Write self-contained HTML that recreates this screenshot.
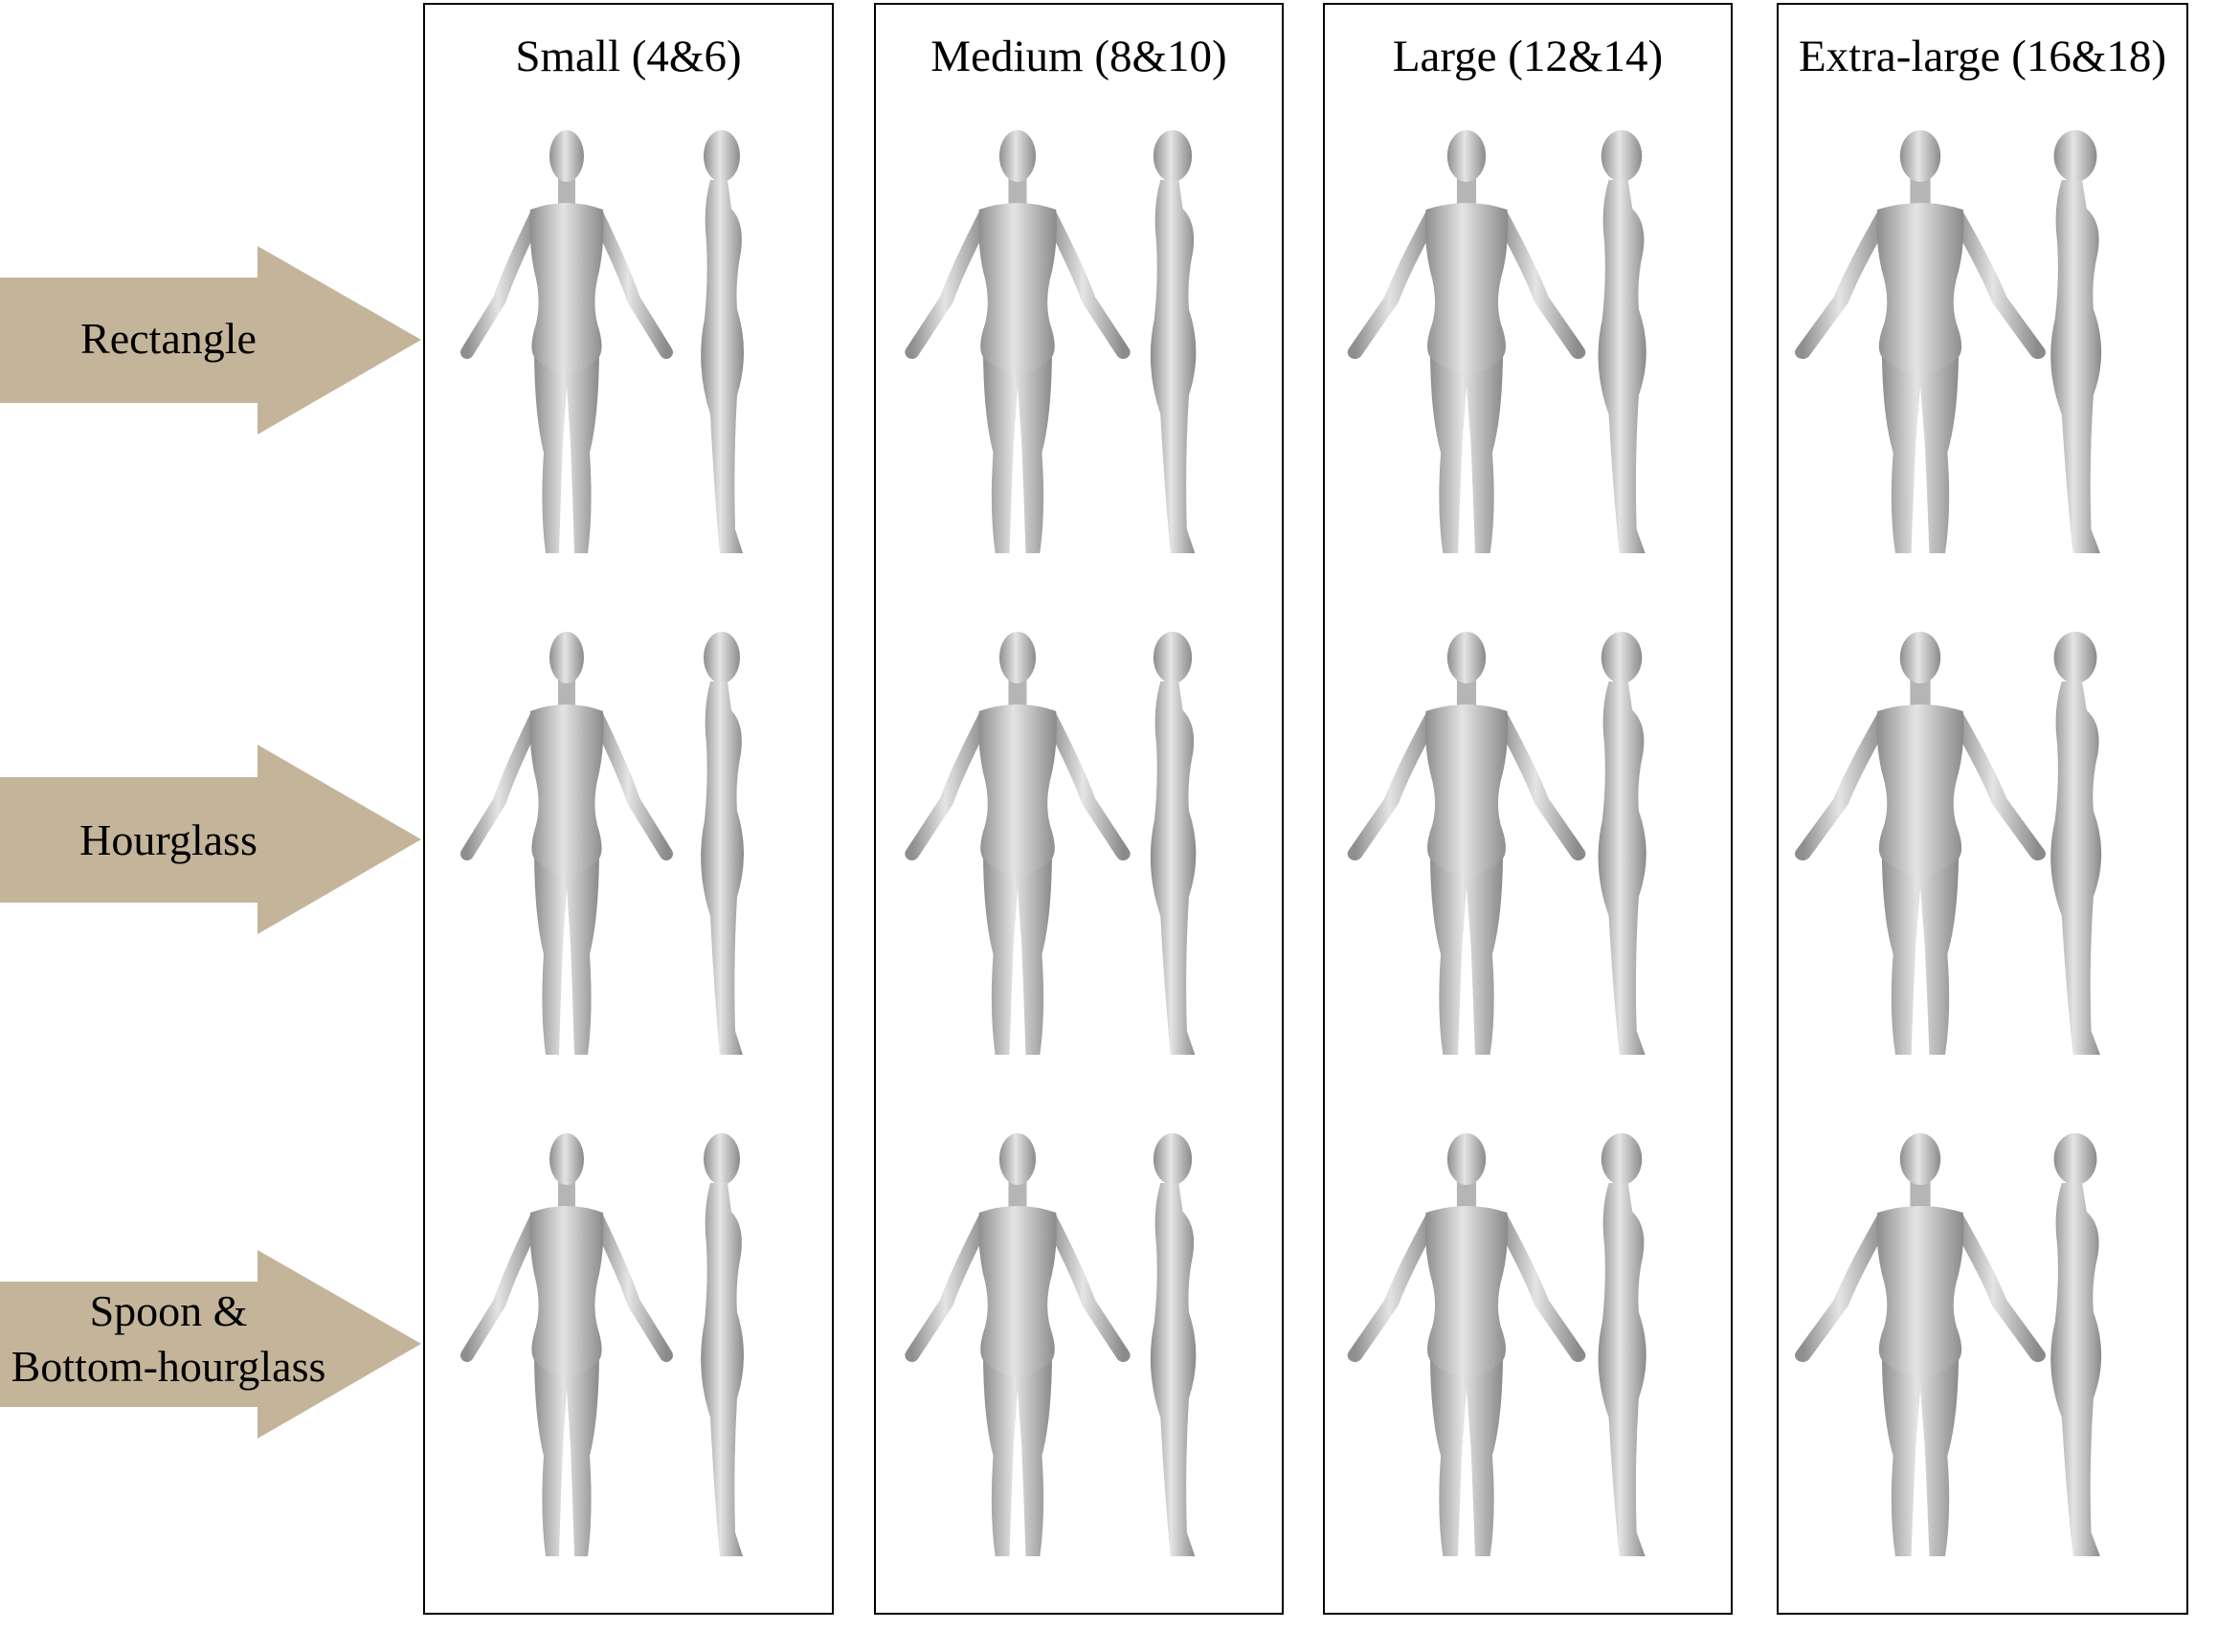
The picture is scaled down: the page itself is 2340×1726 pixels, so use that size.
<!DOCTYPE html>
<html><head><meta charset="utf-8"><style>
body{margin:0;background:#fff;width:2340px;height:1726px;position:relative;overflow:hidden;font-family:"Liberation Serif",serif}
.box{position:absolute;top:3px;height:1684px;border:2px solid #000;box-sizing:border-box}
.title{position:absolute;top:27px;left:-20px;right:-20px;text-align:center;font-size:47px;color:#000;white-space:nowrap}
.lbl{position:absolute;left:0;width:352px;text-align:center;font-size:46px;color:#000;line-height:58px}
</style></head><body>
<svg width="0" height="0" style="position:absolute">
<defs>
<linearGradient id="g" x1="0" x2="1"><stop offset="0" stop-color="#8e8e8e"/><stop offset="0.45" stop-color="#e4e4e4"/><stop offset="1" stop-color="#8a8a8a"/></linearGradient>
<g id="front">
<g stroke="url(#g)" stroke-linecap="round" fill="none">
<path d="M78 92 Q50 150 40 180 L6 235" stroke-width="14"/>
<path d="M142 92 Q170 150 180 180 L214 235" stroke-width="14"/>
</g>
<path d="M76 228 Q76 300 86 340 Q82 400 88 445 L102 445 Q104 380 106 330 L110 270 L114 330 Q116 380 118 445 L132 445 Q138 400 134 340 Q144 300 144 228 Z" fill="url(#g)"/>
<rect x="101" y="50" width="18" height="30" fill="#b5b5b5"/>
<path d="M72 86 Q110 72 148 86 Q150 120 144 150 Q136 180 142 205 Q150 230 144 240 Q110 275 76 240 Q70 230 78 205 Q84 180 76 150 Q70 120 72 86 Z" fill="url(#g)"/>
<ellipse cx="110" cy="30" rx="18" ry="27" fill="url(#g)"/>
</g>
<g id="side">
<ellipse cx="42" cy="30" rx="19" ry="27" fill="url(#g)"/>
<path d="M30 55 L48 55 L52 85 Q66 100 62 130 Q56 160 58 190 Q72 235 58 280 Q54 350 56 420 L64 445 L40 445 Q34 380 30 300 Q14 250 24 200 Q28 160 26 120 Q22 85 30 55 Z" fill="url(#g)"/>
</g>
</defs></svg>

<div><svg style="position:absolute;left:0;top:257px" width="450" height="200"><polygon points="0,33 269,33 269,0 440,98 269,197 269,164 0,164" fill="#c4b49a"/></svg></div>
<div><svg style="position:absolute;left:0;top:778px" width="450" height="200"><polygon points="0,34 269,34 269,0 440,99 269,198 269,165 0,165" fill="#c4b49a"/></svg></div>
<div><svg style="position:absolute;left:0;top:1306px" width="450" height="200"><polygon points="0,33 269,33 269,0 440,98 269,197 269,164 0,164" fill="#c4b49a"/></svg></div>
<div class="lbl" style="top:325px">Rectangle</div>
<div class="lbl" style="top:849px">Hourglass</div>
<div class="lbl" style="top:1341px">Spoon &amp;<br>Bottom-hourglass</div>

<div class="box" style="left:442px;width:429px"><div class="title">Small (4&amp;6)</div></div>
<div class="box" style="left:913px;width:428px"><div class="title">Medium (8&amp;10)</div></div>
<div class="box" style="left:1382px;width:428px"><div class="title">Large (12&amp;14)</div></div>
<div class="box" style="left:1856px;width:430px"><div class="title">Extra-large (16&amp;18)</div></div>

<svg id="figs" style="position:absolute;left:0;top:0" width="2340" height="1726"></svg>
<script>
const boxes=[442,913,1382,1856];
const rows=[133,657,1181];
const svg=document.getElementById('figs');
const NS='http://www.w3.org/2000/svg';
boxes.forEach((bx,i)=>{rows.forEach((ry,j)=>{
 const scale=1+i*0.06;
 const f=document.createElementNS(NS,'use');
 f.setAttribute('href','#front');
 f.setAttribute('transform',`translate(${bx+150-110*scale},${ry}) scale(${scale},1)`);
 
 
 svg.appendChild(f);
 const s=document.createElementNS(NS,'use');
 s.setAttribute('href','#side');
 s.setAttribute('transform',`translate(${bx+312-42*scale},${ry}) scale(${scale},1)`);
 
 
 svg.appendChild(s);
});});
</script>
</body></html>
